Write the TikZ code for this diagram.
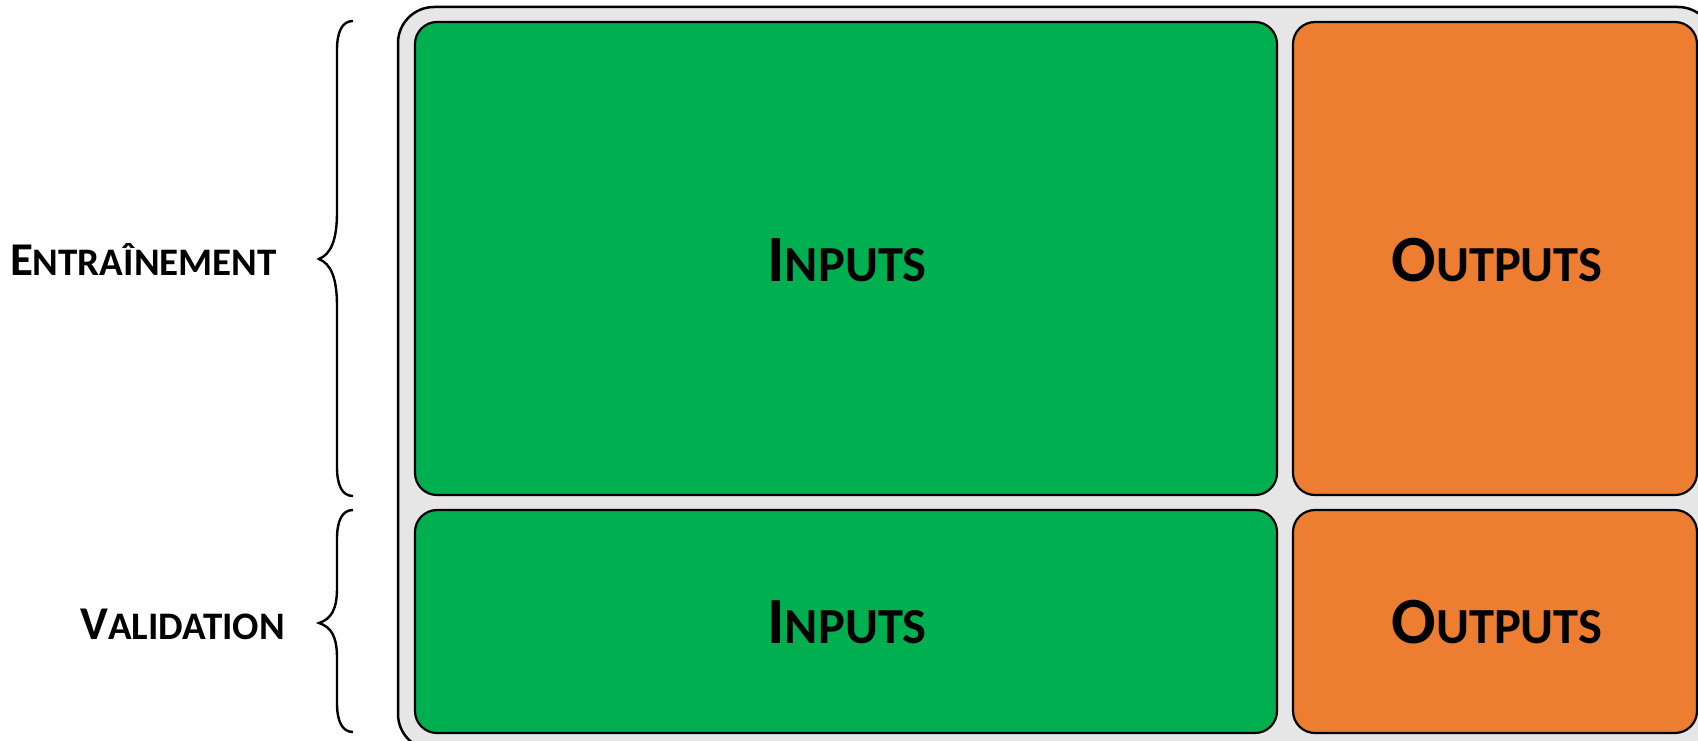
\documentclass[tikz,border=0pt]{standalone}
\usepackage{fontspec}
\setmainfont{Carlito}
\definecolor{boxgreen}{HTML}{00B050}
\definecolor{boxorange}{HTML}{ED7D31}
\definecolor{panelgrey}{HTML}{E7E6E6}
\newcommand{\scword}[4]{{\bfseries\fontsize{#1pt}{#1pt}\selectfont #3\fontsize{#2pt}{#2pt}\selectfont #4}}
\begin{document}
\begin{tikzpicture}[x=1pt,y=-1pt,
  cell/.style={draw=black,line width=2.2pt,rounded corners=22pt},
  brace/.style={draw=black,line width=2.4pt},
  big/.style={anchor=base,inner sep=0pt},
  side/.style={anchor=base east,inner sep=0pt}]
\useasboundingbox (0,0) rectangle (1698,741);
\clip (0,0) rectangle (1698,741);
% outer panel
\draw[fill=panelgrey,draw=black,line width=2.5pt,rounded corners=36pt] (398,7) rectangle (1714,750);
% cells
\draw[cell,fill=boxgreen] (415,22) rectangle (1277,495);
\draw[cell,fill=boxorange] (1293,22) rectangle (1697,495);
\draw[cell,fill=boxgreen] (415,510) rectangle (1277,733);
\draw[cell,fill=boxorange] (1293,510) rectangle (1697,733);
% texts
\node[big] (in1) at (847,281) {\scword{66}{50.5}{I}{NPUTS}};
\node[big] (out1) at (1497,281) {\scword{66}{50.5}{O}{UTPUTS}};
\node[big] (in2) at (847,643) {\scword{66}{50.5}{I}{NPUTS}};
\node[big] (out2) at (1497,643) {\scword{66}{50.5}{O}{UTPUTS}};
\node[side] (train) at (277,275) {\scword{47}{39}{E}{NTRAÎNEMENT}};
\node[side] (valid) at (285,639) {\scword{47}{39}{V}{ALIDATION}};
% braces
\draw[brace] (353,21) .. controls (342,21) and (337,32) .. (337,50) -- (337,212)
  .. controls (337,240) and (331,254) .. (319,259)
  .. controls (331,264) and (337,278) .. (337,306) -- (337,467)
  .. controls (337,485) and (342,496) .. (353,496);
\draw[brace] (353,510) .. controls (342,510) and (337,521) .. (337,539) -- (337,588)
  .. controls (337,610) and (331,619) .. (319,623)
  .. controls (331,627) and (337,636) .. (337,658) -- (337,703)
  .. controls (337,721) and (342,732) .. (353,732);
\end{tikzpicture}
\end{document}
